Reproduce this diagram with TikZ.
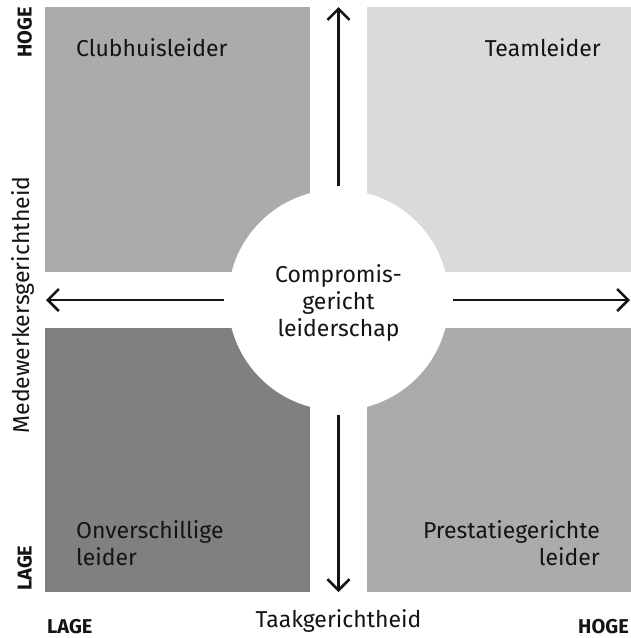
\documentclass[tikz,border=0pt]{standalone}
\usepackage{fontspec}
\setmainfont{Fira Sans}
\usetikzlibrary{arrows.meta}
\definecolor{qtl}{gray}{0.67}
\definecolor{qtr}{gray}{0.855}
\definecolor{qbl}{gray}{0.5}
\definecolor{qbr}{gray}{0.67}
\definecolor{ink}{gray}{0.08}
\begin{document}
\begin{tikzpicture}[x=1pt,y=-1pt,
  lbl/.style={font=\fontsize{23}{27}\selectfont, text=ink, inner sep=0pt},
  axl/.style={font=\bfseries\fontsize{20}{24}\selectfont, text=ink, inner sep=0pt},
  arr/.style={line width=2.6pt, draw=ink, -{Straight Barb[length=11pt,width=22pt,line width=2.6pt]}},
]
\useasboundingbox (0,0) rectangle (631,638);
% quadrants
\fill[qtl] (45,7) rectangle (310,272);
\fill[qtr] (367,7) rectangle (631,272);
\fill[qbl] (45,328) rectangle (310,592);
\fill[qbr] (367,328) rectangle (631,592);
% centre circle
\node[circle, fill=white, minimum size=221pt, inner sep=0pt, outer sep=4pt] (c) at (338.5,300) {};
\node[lbl, align=center] (ctext) at (338.5,303) {Compromis-\\gericht\\leiderschap};
% axis end points
\coordinate (top) at (338.5,7);
\coordinate (bot) at (338.5,592);
\coordinate (lft) at (46,300);
\coordinate (rgt) at (630,300);
\draw[arr] (c.north) -- (top);
\draw[arr] (c.south) -- (bot);
\draw[arr] (c.west) -- (lft);
\draw[arr] (c.east) -- (rgt);
% quadrant labels
\node[lbl, anchor=base west] (club) at (76,56) {Clubhuisleider};
\node[lbl, anchor=base east] (team) at (601,56) {Teamleider};
\node[lbl, anchor=base west, align=left] (onv) at (76,565) {Onverschillige\\leider};
\node[lbl, anchor=base east, align=right] (pres) at (600,565) {Prestatiegerichte\\leider};
% axis labels
\node[lbl, rotate=90, anchor=base] (ylab) at (30,305) {Medewerkersgerichtheid};
\node[lbl, anchor=base] (xlab) at (338.5,627) {Taakgerichtheid};
\node[axl, rotate=90, anchor=base east] (yhi) at (31.5,7) {HOGE};
\node[axl, rotate=90, anchor=base west] (ylo) at (31.5,591) {LAGE};
\node[axl, anchor=base west] (xlo) at (47,633) {LAGE};
\node[axl, anchor=base east] (xhi) at (629,633) {HOGE};
\end{tikzpicture}
\end{document}
